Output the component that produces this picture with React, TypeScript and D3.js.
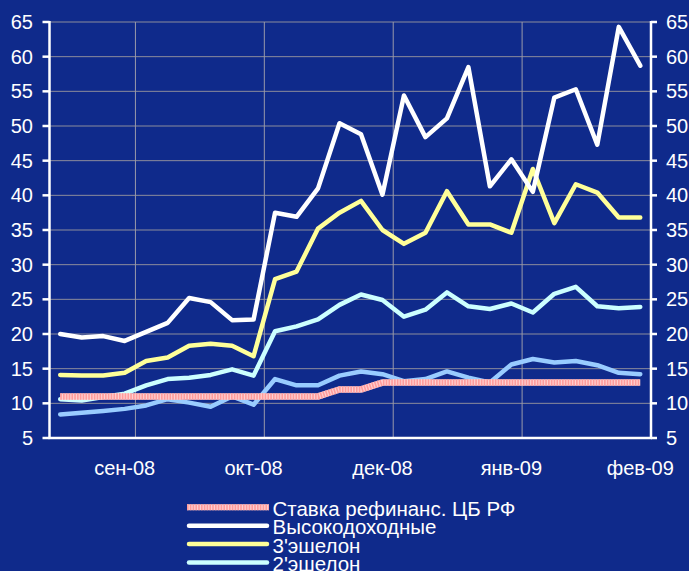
import React from "react";
import * as d3 from "d3";

const categories = ["1","2","3","4","5","6","7","8","9","10","11","12","13","14","15","16","17","18","19","20","21","22","23","24","25","26","27","28"];
const tickLabelIndex = [3, 9, 15, 21, 27];
const tickLabels = ["сен-08", "окт-08", "дек-08", "янв-09", "фев-09"];
const gridIndex = [4, 10, 16, 22];
const yTicks = [5, 10, 15, 20, 25, 30, 35, 40, 45, 50, 55, 60, 65];

const refRate = [11,11,11,11,11,11,11,11,11,11,11,11,11,12,12,13,13,13,13,13,13,13,13,13,13,13,13,13];
const highYield = [20.0,19.5,19.7,19.0,20.3,21.6,25.2,24.6,22.0,22.1,37.5,36.9,41.0,50.4,48.8,40.1,54.4,48.4,51.1,58.5,41.3,45.2,40.5,54.1,55.3,47.3,64.3,58.7];
const tier3 = [14.1,14.0,14.0,14.4,16.1,16.6,18.3,18.6,18.3,16.8,27.9,29.0,35.2,37.5,39.2,35.0,33.0,34.6,40.6,35.8,35.8,34.6,43.8,36.0,41.6,40.4,36.8,36.8];
const tier2 = [10.6,10.4,10.9,11.4,12.6,13.5,13.7,14.1,14.9,14.0,20.4,21.1,22.1,24.2,25.7,24.9,22.5,23.5,26.0,24.0,23.6,24.4,23.1,25.8,26.8,24.0,23.7,23.9];
const tier1 = [8.4,8.65,8.9,9.2,9.7,10.6,10.1,9.5,11.0,9.8,13.5,12.6,12.6,14.0,14.6,14.2,13.2,13.5,14.6,13.7,13.0,15.6,16.4,15.9,16.1,15.5,14.4,14.2];

const legendNames = ["Ставка рефинанс. ЦБ РФ", "Высокодоходные", "3'эшелон", "2'эшелон"];

const W = 689, H = 571;
const BG = "#0F2A8B";
const FONT = "'Liberation Sans', Arial, sans-serif";

export default function App() {
  const x0 = 49.5, x1 = 651;
  const yTop = 22, yBot = 438;
  const x = d3.scaleBand<string>().domain(categories).range([x0, x1]).padding(0);
  const y = d3.scaleLinear().domain([5, 65]).range([yBot, yTop]);
  const cx = (i: number) => (x(categories[i]) as number) + x.bandwidth() / 2;
  const line = d3.line<number>().x((_, i) => cx(i)).y((d) => y(d));

  const series = [
    { data: tier1, color: "#99CCFF", w: 4.5 },
    { data: tier2, color: "#CCFFFF", w: 4.5 },
    { data: tier3, color: "#FFFF99", w: 4.5 },
    { data: highYield, color: "#FFFFFF", w: 4.5 },
  ];

  const legendColors = ["pink", "#FFFFFF", "#FFFF99", "#CCFFFF"];
  const lgX0 = 187, lgX1 = 269, lgY0 = 507.3, lgStep = 18.4;

  return (
    <div style={{ position: "fixed", left: 0, top: 0, width: W, height: H, overflow: "hidden" }}>
      <svg width={W} height={H} style={{ display: "block", fontFamily: FONT }}>
        <rect x={0} y={0} width={W} height={H} fill={BG} />
        {yTicks.slice(1).map((t) => (
          <line key={"hg" + t} x1={x0} x2={x1} y1={y(t)} y2={y(t)} stroke="#8C8C9C" strokeWidth={1} />
        ))}
        {gridIndex.map((gi) => (
          <line key={"vg" + gi} x1={x(categories[gi]) as number} x2={x(categories[gi]) as number} y1={yTop} y2={yBot} stroke="#9A9AAA" strokeWidth={1} />
        ))}
        {series.map((s, k) => (
          <path key={"s" + k} d={line(s.data) || ""} fill="none" stroke={s.color} strokeWidth={s.w} strokeLinejoin="round" strokeLinecap="round" />
        ))}
        <path d={line(refRate) || ""} fill="none" stroke="#FFD0D0" strokeWidth={6.5} strokeLinejoin="miter" />
        <path d={line(refRate) || ""} fill="none" stroke="#FF9C9C" strokeWidth={6.5} strokeDasharray="1.6 1.2" strokeLinejoin="miter" />
        <line x1={x0} x2={x0} y1={yTop - 1} y2={yBot + 1} stroke="#FFFFFF" strokeWidth={2.5} />
        <line x1={x1} x2={x1} y1={yTop - 1} y2={yBot + 1} stroke="#FFFFFF" strokeWidth={2.5} />
        <line x1={x0 - 1} x2={x1 + 1} y1={yBot} y2={yBot} stroke="#FFFFFF" strokeWidth={2.5} />
        {yTicks.map((t) => (
          <g key={"yt" + t}>
            <line x1={x0 - 7} x2={x0} y1={y(t)} y2={y(t)} stroke="#FFFFFF" strokeWidth={2.5} />
            <line x1={x1} x2={x1 + 6} y1={y(t)} y2={y(t)} stroke="#FFFFFF" strokeWidth={2.5} />
            <text x={33} y={y(t)} dy="0.35em" textAnchor="end" fill="#FFFFFF" fontSize={20}>{t}</text>
            <text x={666} y={y(t)} dy="0.35em" textAnchor="start" fill="#FFFFFF" fontSize={20}>{t}</text>
          </g>
        ))}
        {tickLabelIndex.map((ti, k) => (
          <text key={"xl" + k} x={cx(ti)} y={475} textAnchor="middle" fill="#FFFFFF" fontSize={20}>{tickLabels[k]}</text>
        ))}
        {legendNames.map((name, k) => {
          const ly = lgY0 + k * lgStep;
          return (
            <g key={"lg" + k}>
              {k === 0 ? (
                <g>
                  <line x1={lgX0} x2={lgX1} y1={ly} y2={ly} stroke="#FFD0D0" strokeWidth={6} />
                  <line x1={lgX0} x2={lgX1} y1={ly} y2={ly} stroke="#FF9C9C" strokeWidth={6} strokeDasharray="1.6 1.2" />
                </g>
              ) : (
                <line x1={lgX0 + 2} x2={lgX1 - 2} y1={ly} y2={ly} stroke={legendColors[k]} strokeWidth={4.5} strokeLinecap="round" />
              )}
              <text x={272.5} y={ly + 8.7} fill="#FFFFFF" fontSize={20.5}>{name}</text>
            </g>
          );
        })}
      </svg>
    </div>
  );
}
